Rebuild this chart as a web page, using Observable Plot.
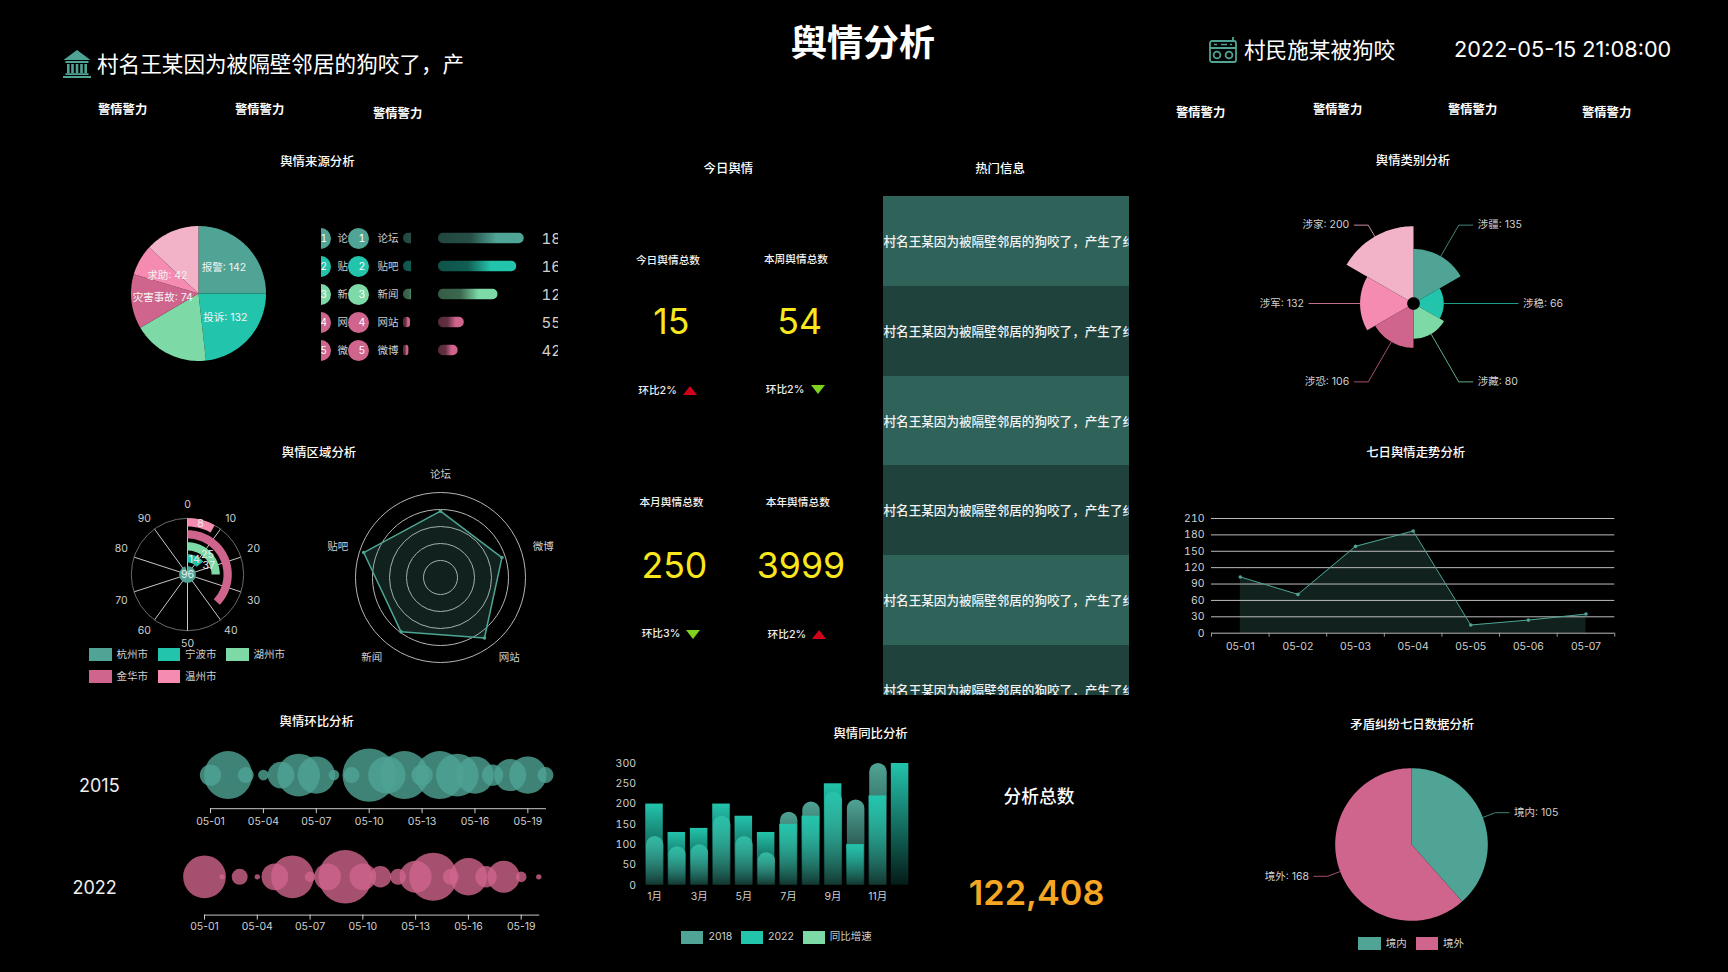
<!DOCTYPE html>
<html lang="zh"><head><meta charset="utf-8">
<script src="https://cdn.jsdelivr.net/npm/d3@7"></script>
<script src="https://cdn.jsdelivr.net/npm/@observablehq/plot@0.6"></script>
<style>
html,body{margin:0;padding:0;background:#000;width:1728px;height:972px;overflow:hidden}
#stage{position:relative;width:1728px;height:972px;background:#000;font-family:Inter,"Noto Sans CJK SC",sans-serif;overflow:hidden}
.t{position:absolute;white-space:nowrap;line-height:1}
svg.plot,figure{margin:0}
</style></head><body><div id="stage"></div>
<script>
// ---------- data ----------
const sourceNames = ["报警","投诉","","灾害事故","求助",""];
const sourceValues = [142,132,104,74,42,74];
const rankNames = ["论坛","贴吧","新闻","网站","微博"];
const rankValues = [183,167,127,55,42];
const regionNames = ["杭州市","宁波市","湖州市","金华市","温州市"];
const regionValues = [96,14,25,37,8];
const angleTicks = [0,10,20,30,40,50,60,70,80,90];
const radarNames = ["论坛","微博","网站","新闻","贴吧"];
const radarValues = [78,76,88,79,95];
const days20 = ["05-01","05-02","05-03","05-04","05-05","05-06","05-07","05-08","05-09","05-10","05-11","05-12","05-13","05-14","05-15","05-16","05-17","05-18","05-19","05-20"];
const dayTicks = ["05-01","05-04","05-07","05-10","05-13","05-16","05-19"];
const bubbles2015 = [4,9,3,2,5,8,7,2,3,10,7,9,4,9,8,7,4,6,7,3];
const bubbles2022 = [8,1,3,1,5,8,2,5,10,5,4,3,6,9,3,7,4,6,2,1];
const months = ["1月","2月","3月","4月","5月","6月","7月","8月","9月","10月","11月","12月"];
const monthTicks = ["1月","3月","5月","7月","9月","11月"];
const bars2018 = [120,95,100,170,120,80,180,205,230,210,300];
const bars2022 = [200,130,140,200,170,130,150,170,250,100,220,300];
const hotRows = [1,2,3,4,5,6];
const hotText = "村名王某因为被隔壁邻居的狗咬了，产生了纠纷";
const roseNames = ["涉疆","涉稳","涉藏","涉恐","涉军","涉家"];
const roseValues = [135,66,80,106,132,200];
const days7 = ["05-01","05-02","05-03","05-04","05-05","05-06","05-07"];
const trendValues = [103,71,159,187,15,24,35];
const trendTicks = [0,30,60,90,120,150,180,210];
const borderNames = ["境内","境外"];
const borderValues = [105,168];

// ---------- style ----------
const TEAL="#4fa495",TURQ="#23c4ac",MINT="#7dd9a6",ROSE="#cf648c",PINK="#f58bb1",BLUSH="#f2b3c9";
const palette=[TEAL,TURQ,MINT,ROSE,PINK,BLUSH];
const FONT='Inter,"Noto Sans CJK SC",sans-serif';
const GREY="#cfcfcf";
const stage=document.getElementById("stage");

function text(s,x,y,o={}){
  const d=document.createElement("div");d.className="t";d.textContent=s;
  const ax=o.anchor==="start"?"0":o.anchor==="end"?"-100%":"-50%";
  d.style.cssText=`left:${x}px;top:${y}px;transform:translate(${ax},-50%);font-size:${o.size||12}px;color:${o.color||"#fff"};font-weight:${o.weight||400}`;
  stage.appendChild(d);return d;
}
function title(s,x,y){return text(s,x,y+.7,{size:12.4,weight:500});}
function swatch(x,y,w,h,c){const d=document.createElement("div");d.style.cssText=`position:absolute;left:${x}px;top:${y}px;width:${w}px;height:${h}px;background:${c}`;stage.appendChild(d);}
function legend(items){for(const [name,c,x,y,w,h,tx] of items){swatch(x,y,w,h,c);text(name,tx,y+h/2,{size:10.5,color:GREY,anchor:"start"});}}
function raw(html,x,y){const d=document.createElement("div");d.style.cssText=`position:absolute;left:${x}px;top:${y}px;line-height:0`;d.innerHTML=html;stage.appendChild(d);}
function place(p,x,y,clip){
  p.style.position="absolute";p.style.left=x+"px";p.style.top=y+"px";
  p.style.background="transparent";p.style.overflow=clip?"hidden":"visible";p.style.maxWidth="none";p.style.height=p.getAttribute("height")+"px";
  stage.appendChild(p);return p;
}
const baseStyle={background:"transparent",fontFamily:FONT,color:GREY,fontSize:"10.5px"};
function polar(cx,cy,R,marks){
  const p=Plot.plot({width:2*R,height:2*R,margin:0,
    x:{domain:[-R,R],range:[0,2*R],axis:null},y:{domain:[-R,R],range:[0,2*R],axis:null},
    style:baseStyle,marks});
  return place(p,cx-R,cy-R);
}
function sector(a0,a1,r0,r1){
  const pts=[],n=Math.max(2,Math.ceil((a1-a0)/2)),rad=Math.PI/180;
  for(let i=0;i<=n;i++){const a=(a0+(a1-a0)*i/n)*rad;pts.push({x:r1*Math.sin(a),y:-r1*Math.cos(a)});}
  if(r0>0)for(let i=n;i>=0;i--){const a=(a0+(a1-a0)*i/n)*rad;pts.push({x:r0*Math.sin(a),y:-r0*Math.cos(a)});}
  else pts.push({x:0,y:0});
  return pts;
}
const fillPoly=(pts,c,extra={})=>Plot.line(pts,{x:"x",y:"y",fill:c,stroke:"none",...extra});
const at=(r,a)=>({x:r*Math.sin(a*Math.PI/180),y:-r*Math.cos(a*Math.PI/180)});

// gradients shared by the plots
const NS="http://www.w3.org/2000/svg";
const defs=document.createElementNS(NS,"svg");defs.setAttribute("width",0);defs.setAttribute("height",0);defs.style.position="absolute";
function grad(id,x2,y2,c,stops){
  defs.insertAdjacentHTML("beforeend",`<linearGradient id="${id}" x1="0" y1="0" x2="${x2}" y2="${y2}">`+stops.map(([o,a])=>`<stop offset="${o}" stop-color="${c}" stop-opacity="${a}"/>`).join("")+`</linearGradient>`);
}
grad("v18",0,1,TEAL,[[0,1],[1,.2]]);
grad("v22",0,1,TURQ,[[0,1],[1,.14]]);
palette.slice(0,3).concat([ROSE,ROSE]).forEach((c,i)=>grad("h"+i,1,0,c,[[0,.42],[.38,.48],[.68,1],[1,1]]));
stage.appendChild(defs);

// ---------- header ----------
text("舆情分析",863,42.5,{size:36,weight:700});
raw(`<svg width="28" height="28" viewBox="0 0 28 28" fill="${TEAL}"><path d="M14 0l13.5 10H.5z"/><rect x="2.5" y="11" width="23" height="2"/><rect x="4" y="14" width="2.6" height="9"/><rect x="8.2" y="14" width="2.6" height="9"/><rect x="12.7" y="14" width="2.6" height="9"/><rect x="17.2" y="14" width="2.6" height="9"/><rect x="21.4" y="14" width="2.6" height="9"/><rect x="2.5" y="23.2" width="23" height="1.8"/><rect x="0" y="26" width="28" height="2"/></svg>`,63,50);
text("村名王某因为被隔壁邻居的狗咬了，产",97,65,{size:21.6,anchor:"start"});
raw(`<svg width="28" height="26" viewBox="0 0 28 26" fill="none" stroke="${TEAL}" stroke-width="1.8"><rect x="1" y="4" width="26" height="21" rx="2"/><path d="M1 11h26M24 4V0"/><circle cx="8" cy="18" r="3.4"/><circle cx="20" cy="18" r="3.4"/><path d="M5 7.5h3M12 7.5h6M21 7.5h2" stroke-width="1.4"/></svg>`,1209,37);
text("村民施某被狗咬",1244,51,{size:21.6,anchor:"start"});
text("2022-05-15 21:08:00",1454,49.5,{size:21.7,anchor:"start"});
[[98,110],[235,110],[373,114],[1176,112.5],[1313,109.5],[1448,109.5],[1582,112.5]].forEach(([x,y])=>text("警情警力",x,y,{size:12.3,weight:700,anchor:"start"}));

// ---------- section titles ----------
title("舆情来源分析",317.4,161.5);
title("舆情区域分析",319,452.7);
title("舆情环比分析",316.7,721.3);
title("今日舆情",728.4,168.3);
title("热门信息",1000,168.3);
title("舆情同比分析",870.6,733);
title("舆情类别分析",1413,160.3);
title("七日舆情走势分析",1415.7,452.7);
title("矛盾纠纷七日数据分析",1412.3,724.7);

// ---------- source pie ----------
{
  const total=d3.sum(sourceValues);let a=0;const marks=[],labels=[];
  sourceValues.forEach((v,i)=>{const b=a+v/total*360;marks.push(fillPoly(sector(a,b,0,67.5),palette[i]));
    if(sourceNames[i])labels.push({...at(36,(a+b)/2),s:`${sourceNames[i]}: ${v}`});a=b;});
  marks.push(Plot.text(labels,{x:"x",y:"y",text:"s",fill:"#f4f4f4",fontSize:10.5}));
  polar(198.4,293,72,marks);
}
// ---------- ranking list ----------
{
  const rows=rankNames.map((name,i)=>({name,v:rankValues[i],rank:i+1,c:palette[i<3?i:3],g:`url(#h${i})`}));
  const y={domain:rankNames,range:[0,140],paddingInner:.625,paddingOuter:.3125,round:false,axis:null};
  const cols=Plot.plot({width:237,height:140,margin:0,y,style:{...baseStyle},marks:[
    Plot.dot(rows,{y:"name",frameAnchor:"left",dx:-1,r:10.5,fill:"c"}),
    Plot.text(rows,{y:"name",frameAnchor:"left",dx:-1,text:"rank",fill:"#fff",fontSize:10}),
    Plot.text(rows,{y:"name",frameAnchor:"left",dx:16,text:"name",fill:GREY,fontSize:10.5,textAnchor:"start"}),
    Plot.dot(rows,{y:"name",frameAnchor:"left",dx:37,r:10.5,fill:"c"}),
    Plot.text(rows,{y:"name",frameAnchor:"left",dx:37,text:"rank",fill:"#fff",fontSize:10.5}),
    Plot.text(rows,{y:"name",frameAnchor:"left",dx:56,text:"name",fill:GREY,fontSize:10.5,textAnchor:"start"}),
    Plot.text(rows,{y:"name",frameAnchor:"left",dx:220,dy:.8,text:"v",fill:GREY,fontSize:15,textAnchor:"start"})
  ],color:{type:"identity"}});
  place(cols,321,224.3,true);
  const frag=Plot.plot({width:8.2,height:140,margin:0,y,x:{domain:[0,183],range:[0,23.5],axis:null},style:baseStyle,
    marks:rows.map(r=>Plot.barX([r],{x1:0,x2:"v",y:"name",fill:r.g,r:5}))});
  place(frag,402.5,224.3,true);
  const bars=Plot.plot({width:100,height:140,margin:0,y,x:{domain:[0,183],range:[0,85.7],axis:null},style:baseStyle,
    marks:rows.map(r=>Plot.barX([r],{x1:0,x2:"v",y:"name",fill:r.g,r:5}))});
  place(bars,437.5,224.3);
}
// ---------- radial bars ----------
{
  const R=56.2,marks=[];
  angleTicks.forEach(v=>{const a=v*3.6;marks.push(Plot.line([{x:0,y:0},at(R,a)],{x:"x",y:"y",stroke:"#c8c8c8",strokeWidth:1}));});
  marks.push(Plot.dot([{x:0,y:0}],{x:"x",y:"y",r:R,stroke:"#6a6a6a",strokeWidth:1,fill:"none"}));
  const labels=[];
  regionValues.forEach((v,i)=>{
    const inner=12*i,c=[TEAL,TURQ,MINT,ROSE,PINK][i],end=v*3.6;
    marks.push(fillPoly(sector(0,end,inner,inner+8.3),c));
    const lr=i===0?0:(i===3?23.2:inner+4.2);
    labels.push({...at(lr,end/2),s:String(v)});
  });
  marks.push(Plot.text(labels,{x:"x",y:"y",text:"s",fill:"#eee",fontSize:10.5}));
  marks.push(Plot.text(angleTicks.map(v=>{const p=at(69.5,v*3.6);
    return {x:p.x*(Math.abs(p.x)<50?1.06:1),y:p.y*(Math.abs(p.y)<30?1.2:1),s:String(v)};}),{x:"x",y:"y",text:"s",fill:GREY,fontSize:10.5}));
  polar(187.3,574.4,90,marks);
  legend([["杭州市",TEAL,89,648,23,13,116.5],["宁波市",TURQ,158,648,22,13,185],["湖州市",MINT,226,648,23,13,253.5],
          ["金华市",ROSE,89,670,23,13,116.5],["温州市",PINK,158,670,22,13,185]]);
}
// ---------- radar ----------
{
  const k=85/100,marks=[];
  [17,34,51,68,85].forEach(r=>marks.push(Plot.dot([{x:0,y:0}],{x:"x",y:"y",r,stroke:"#b5b5b5",strokeWidth:1,fill:"none"})));
  const pts=radarValues.map((v,i)=>at(v*k,i*72));
  marks.push(Plot.line(pts.concat(pts[0]),{x:"x",y:"y",fill:TEAL,fillOpacity:.2,stroke:TEAL,strokeWidth:1.5}));
  marks.push(Plot.dot(pts,{x:"x",y:"y",r:1.8,fill:TEAL}));
  marks.push(Plot.text(radarNames.map((s,i)=>{const a=i*72*Math.PI/180,c=Math.cos(a);
    return {x:(c<-.5?117:108)*Math.sin(a),y:-(c<-.5?99:100)*c-(i===0?3:0),s};}),{x:"x",y:"y",text:"s",fill:GREY,fontSize:10.5}));
  polar(440.3,576.7,125,marks);
}
// ---------- bubbles ----------
function bubbleChart(vals,c,x0,x1,yc,yAxis,pad){
  const half=yAxis-yc,ml=40;
  const data=days20.map((d,i)=>({d,v:vals[i]}));
  const p=Plot.plot({width:x1-x0+80,height:half*2+24,marginLeft:ml,marginRight:40,marginTop:0,marginBottom:24,
    x:{type:"point",domain:days20,padding:0,round:false,axis:null},
    r:{type:"linear",domain:[0,10],range:[0,26.7]},
    style:baseStyle,marks:[
      Plot.dot(data,{x:"d",r:"v",fill:c,fillOpacity:.8,stroke:"none"}),
      Plot.frame({anchor:"bottom",stroke:"#c8c8c8"}),
      Plot.axisX({ticks:dayTicks,tickSize:5,tickPadding:pad,color:GREY,fontSize:10.5,label:null})
    ]});
  place(p,x0-ml,yc-half);
}
bubbleChart(bubbles2015,TEAL,210,545,774.7,808.3,4);
bubbleChart(bubbles2022,ROSE,203.7,538,876,914.3,2.5);
text("2015",99.3,785.7,{size:18,color:"#eee"});
text("2022",94.7,888,{size:18,color:"#eee"});

// ---------- KPI cards ----------
function tri(cx,cy,up,c){raw(`<svg width="14" height="9" viewBox="0 0 14 9"><path d="${up?"M7 0L14 9H0Z":"M0 0H14L7 9Z"}" fill="${c}"/></svg>`,cx-7,cy-4.5);}
const RED="#d0021b",GREEN="#7ed321",YEL="#f8e71c";
[["今日舆情总数",668,260.7,"15",671.3,321.7,"环比2%",657.5,390.5,true,689.5],
 ["本周舆情总数",796,259.7,"54",799.7,321.7,"环比2%",785,389.5,false,817.6],
 ["本月舆情总数",671.5,503.2,"250",674.4,566,"环比3%",661,634,false,693],
 ["本年舆情总数",797.8,503.2,"3999",801,566,"环比2%",786.8,634.5,true,818.8]
].forEach(([n,x,y,v,vx,vy,h,hx,hy,up,tx])=>{
  text(n,x,y,{size:10.7,weight:500,color:"#f2f2f2"});
  text(v,vx,vy,{size:35.7,color:YEL});
  text(h,hx,hy,{size:10.7,weight:500,color:"#eee"});
  tri(tx,hy,up,up?RED:GREEN);
});
// ---------- hot table ----------
{
  const rows=hotRows.map(r=>({r,s:hotText,c:r%2?"#2f6259":"#20423c"}));
  const p=Plot.plot({width:246.3,height:498.5,margin:0,
    y:{domain:hotRows,range:[0,538.8],padding:0,round:false,axis:null},x:{domain:[0,1],axis:null},color:{type:"identity"},
    style:baseStyle,marks:[
      Plot.barX(rows,{x1:0,x2:1,y:"r",fill:"c",shapeRendering:"crispEdges"}),
      Plot.text(rows,{y:"r",frameAnchor:"left",dy:.5,text:"s",fill:"#f2f2f2",fontSize:12.6,fontWeight:500,textAnchor:"start"})
    ]});
  place(p,883,196,true);
}
// ---------- YoY bars ----------
{
  const d18=bars2018.map((v,i)=>({m:months[i],v})),d22=bars2022.map((v,i)=>({m:months[i],v}));
  const p=Plot.plot({width:320,height:166.7,marginLeft:43,marginRight:9.4,marginTop:20,marginBottom:25,
    x:{type:"band",domain:months,paddingInner:.215,paddingOuter:.1,round:false,axis:null},
    y:{domain:[0,300],axis:null},
    style:baseStyle,marks:[
      Plot.barY(d18,{x:"m",y:"v",fill:"url(#v18)",dx:.7,ry1:8.8}),
      Plot.barY(d22,{x:"m",y:"v",fill:"url(#v22)"}),
      Plot.axisY({ticks:[0,50,100,150,200,250,300],tickSize:0,tickPadding:7.5,color:GREY,fontSize:10.5,label:null}),
      Plot.axisX({ticks:monthTicks,tickSize:0,tickPadding:7,color:GREY,fontSize:10.5,label:null})
    ]});
  place(p,600,743.3);
  legend([["2018",TEAL,681,931,22,12.5,708.5],["2022",TURQ,740.5,931,22.5,12.5,768],["同比增速",MINT,802.5,931,22,12.5,829.7]]);
}
text("分析总数",1039,797.3,{size:17.7,weight:500});
text("122,408",1036.6,892.7,{size:34.3,weight:600,color:"#f5a623"});
// ---------- rose ----------
{
  const marks=[],radius=v=>7.1+.351*v,labels=[];
  roseValues.forEach((v,i)=>{
    const a0=i*60,a1=a0+60,mid=a0+30,c=palette[i],r=radius(v),p0=at(r,mid),p1=at(90.5,mid);
    const sign=Math.sin(mid*Math.PI/180)>=0?1:-1,p2={x:p1.x+sign*14,y:p1.y};
    marks.push(Plot.line([p0,p1,p2],{x:"x",y:"y",stroke:c,strokeWidth:1,strokeOpacity:.8}));
    labels.push({x:p2.x+sign*5,y:p2.y,s:`${roseNames[i]}: ${v}`,anchor:sign>0?"start":"end"});
    marks.push(fillPoly(sector(a0,a1,6.3,r),c));
  });
  for(const anchor of ["start","end"])marks.push(Plot.text(labels.filter(d=>d.anchor===anchor),{x:"x",y:"y",text:"s",fill:GREY,fontSize:10.5,textAnchor:anchor}));
  polar(1413,303,170,marks);
}
// ---------- trend ----------
{
  const data=days7.map((d,i)=>({d,v:trendValues[i]}));
  const step=403.3/7;
  const p=Plot.plot({width:448.3,height:139.7,marginLeft:40,marginRight:5,marginTop:5,marginBottom:20,
    x:{type:"band",domain:days7,padding:0,round:false,axis:null},y:{domain:[0,210],axis:null},
    style:baseStyle,marks:[
      Plot.areaY(data,{x:"d",y:"v",fill:TEAL,fillOpacity:.2}),
      Plot.ruleY(trendTicks,{stroke:"#bdbdbd",strokeWidth:1}),
      Plot.ruleX(days7,{x:d=>d,y1:0,y2:-7.3,dx:-step/2,stroke:"#9a9a9a"}),
      Plot.ruleX([days7[6]],{x:d=>d,y1:0,y2:-7.3,dx:step/2,stroke:"#9a9a9a"}),
      Plot.lineY(data,{x:"d",y:"v",stroke:TEAL,strokeWidth:1}),
      Plot.dot(data,{x:"d",y:"v",r:1.8,fill:TEAL}),
      Plot.axisY({ticks:trendTicks,tickSize:0,tickPadding:7,color:GREY,fontSize:10.5,label:null}),
      Plot.axisX({tickSize:0,tickPadding:9,color:GREY,fontSize:10.5,label:null})
    ]});
  place(p,1171,513.3);
}
// ---------- border pie ----------
{
  const total=d3.sum(borderValues),marks=[],labels=[];let a=0;
  borderValues.forEach((v,i)=>{
    const b=a+v/total*360,mid=(a+b)/2,c=i?ROSE:TEAL,p0=at(76.3,mid),p1=at(89.7,mid);
    const sign=Math.sin(mid*Math.PI/180)>=0?1:-1,p2={x:p1.x+sign*13.7,y:p1.y};
    marks.push(Plot.line([p0,p1,p2],{x:"x",y:"y",stroke:c,strokeWidth:1,strokeOpacity:.8}));
    marks.push(fillPoly(sector(a,b,0,76.3),c));
    labels.push({x:p2.x+sign*5,y:p2.y,s:`${borderNames[i]}: ${v}`,anchor:sign>0?"start":"end"});
    a=b;
  });
  for(const anchor of ["start","end"])marks.push(Plot.text(labels.filter(d=>d.anchor===anchor),{x:"x",y:"y",text:"s",fill:GREY,fontSize:10.5,textAnchor:anchor}));
  polar(1411.3,844,170,marks);
  legend([["境内",TEAL,1358,937,23,13,1385.7],["境外",ROSE,1416,937,22.3,13,1443]]);
}
</script></body></html>
